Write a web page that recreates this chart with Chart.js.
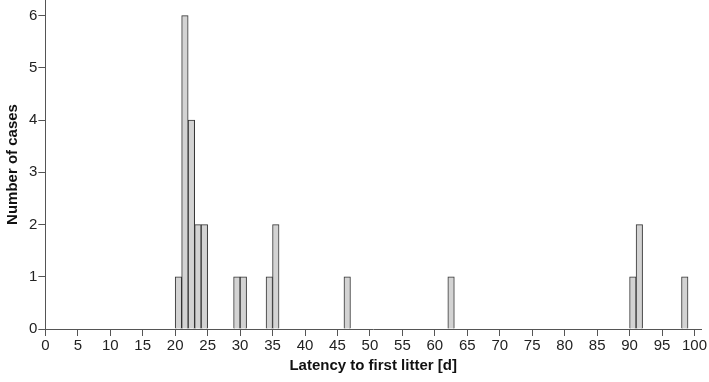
<!DOCTYPE html>
<html>
<head>
<meta charset="utf-8">
<script src="https://cdn.jsdelivr.net/npm/chart.js@4"></script>
<style>
  html, body { margin: 0; padding: 0; background: #fff; }
  #wrap { width: 709px; height: 382px; }
</style>
</head>
<body>
<div id="wrap"><canvas id="hist"></canvas></div>
<script>
// histogram bins: start day of each 1-day bin and the number of cases in it
const binStart = [20, 21, 22, 23, 24, 29, 30, 34, 35, 46, 62, 90, 91, 98];
const counts   = [1, 6, 4, 2, 2, 1, 1, 1, 2, 1, 1, 1, 2, 1];
const xTicks = [0, 5, 10, 15, 20, 25, 30, 35, 40, 45, 50, 55, 60, 65, 70, 75, 80, 85, 90, 95, 100];
const yTicks = [0, 1, 2, 3, 4, 5, 6];

const points = binStart.map((s, i) => ({ x: s + 0.5, y: counts[i] }));

const axisColor = '#555';
const font = { family: 'Liberation Sans, Arial, sans-serif' };

new Chart('hist', {
  type: 'bar',
  data: {
    datasets: [{
      data: points,
      backgroundColor: '#d3d3d3',
      borderColor: '#333',
      borderWidth: 1,
      barPercentage: 1,
      categoryPercentage: 1
    }]
  },
  options: {
    responsive: true,
    maintainAspectRatio: false,
    animation: false,
    layout: { padding: { top: 0, right: 8, left: 0, bottom: 3 } },
    plugins: { legend: { display: false }, tooltip: { enabled: false } },
    scales: {
      x: {
        type: 'linear',
        offset: false,
        min: 0,
        max: 101,
        afterBuildTicks: s => { s.ticks = xTicks.map(v => ({ value: v })); },
        grid: { offset: false, drawOnChartArea: false, drawTicks: true, tickLength: 7, color: axisColor },
        border: { color: axisColor, width: 1 },
        ticks: { color: '#222', font: { ...font, size: 15 }, padding: 1, maxRotation: 0, autoSkip: false },
        title: { display: true, text: 'Latency to first litter [d]', color: '#111',
                 font: { ...font, size: 15, weight: 'bold' }, padding: { top: 1 } }
      },
      y: {
        min: 0,
        max: 6.3,
        afterBuildTicks: s => { s.ticks = yTicks.map(v => ({ value: v })); },
        // axis runs right up to the top edge, no room kept for the top label
        afterFit: s => { s.paddingTop = 0; },
        grid: { drawOnChartArea: false, drawTicks: true, tickLength: 7, color: axisColor },
        border: { color: axisColor, width: 1 },
        ticks: { color: '#222', font: { ...font, size: 15 }, padding: 1 },
        title: { display: true, text: 'Number of cases', color: '#111',
                 font: { ...font, size: 15, weight: 'bold' }, padding: { bottom: 6 } }
      }
    }
  }
});
</script>
</body>
</html>
